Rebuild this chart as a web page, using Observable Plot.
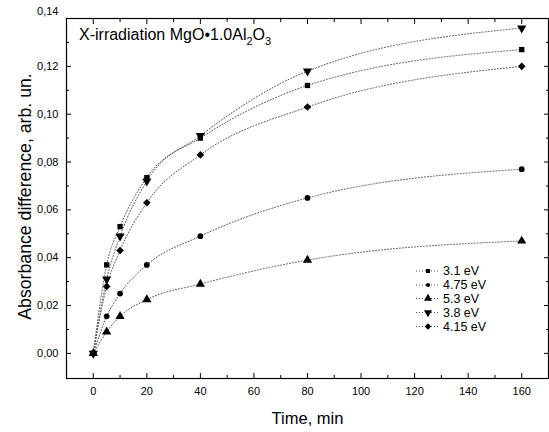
<!DOCTYPE html>
<html>
<head>
<meta charset="utf-8">
<script src="https://cdn.jsdelivr.net/npm/d3@7"></script>
<script src="https://cdn.jsdelivr.net/npm/@observablehq/plot@0.6"></script>
<style>
  html, body { margin: 0; padding: 0; background: #fff; }
  #chart { width: 549px; height: 432px; }
</style>
</head>
<body>
<div id="chart"></div>
<script>
// ---- data ----
const times = [0, 5, 10, 20, 40, 80, 160];
const seriesNames = ["3.1 eV", "4.75 eV", "5.3 eV", "3.8 eV", "4.15 eV"];
const s3_1  = [0, 0.037, 0.053, 0.0735, 0.090, 0.112, 0.127];
const s4_75 = [0, 0.0155, 0.025, 0.037, 0.049, 0.065, 0.077];
const s5_3  = [0, 0.009, 0.0155, 0.0225, 0.029, 0.039, 0.047];
const s3_8  = [0, 0.031, 0.049, 0.072, 0.091, 0.118, 0.136];
const s4_15 = [0, 0.028, 0.043, 0.063, 0.083, 0.103, 0.120];
const xMajorTicks = [0, 20, 40, 60, 80, 100, 120, 140, 160];
const xMinorTicks = [10, 30, 50, 70, 90, 110, 130, 150];
const yMajorTicks = [0, 0.02, 0.04, 0.06, 0.08, 0.10, 0.12, 0.14];
const yMinorTicks = [0.01, 0.03, 0.05, 0.07, 0.09, 0.11, 0.13];

const seriesValues = [s3_1, s4_75, s5_3, s3_8, s4_15];
const symbols = {"3.1 eV": "square", "4.75 eV": "circle", "5.3 eV": "triangle", "3.8 eV": "triangle", "4.15 eV": "diamond2"};
const rotations = {"3.1 eV": 0, "4.75 eV": 0, "5.3 eV": 0, "3.8 eV": 180, "4.15 eV": 0};
const radii = {"3.1 eV": 2.3, "4.75 eV": 2.1, "5.3 eV": 3.0, "3.8 eV": 3.0, "4.15 eV": 3.0};

const data = [];
seriesNames.forEach((name, i) => {
  times.forEach((t, j) => data.push({series: name, t, v: seriesValues[i][j]}));
});

const font = "'Liberation Sans', Arial, sans-serif";
const comma = d => d3.format(".2f")(d).replace(".", ",");
const yLabelTicksLow = yMajorTicks.slice(0, -1);
const yLabelTickTop = yMajorTicks.slice(-1);

const chart = Plot.plot({
  width: 549,
  height: 432,
  marginLeft: 66,
  marginRight: 1,
  marginTop: 18,
  marginBottom: 54,
  style: {fontFamily: font, fontSize: "11px", color: "#000", background: "#fff"},
  x: {domain: [-10, 170]},
  y: {domain: [-0.0105, 0.14]},
  symbol: {domain: seriesNames, range: seriesNames.map(s => symbols[s])},
  marks: [
    // fitted dotted curves
    Plot.line(data, {x: "t", y: "v", z: "series", curve: "monotone-x", stroke: "#555", strokeWidth: 1, strokeDasharray: "1,2"}),
    // tick labels
    Plot.axisX(xMajorTicks, {anchor: "bottom", tickSize: 0, tickPadding: 9, label: null, fontSize: 11}),
    Plot.axisY(yLabelTicksLow, {anchor: "left", tickSize: 0, tickPadding: 8, label: null, tickFormat: comma, fontSize: 11}),
    Plot.axisY(yLabelTickTop, {anchor: "left", tickSize: 0, tickPadding: 8, label: null, tickFormat: comma, fontSize: 11, dy: -7}),
    // inward ticks on all sides
    Plot.axisX(xMajorTicks, {anchor: "bottom", tickSize: -5, tickFormat: () => "", label: null}),
    Plot.axisX(xMinorTicks, {anchor: "bottom", tickSize: -3, tickFormat: () => "", label: null}),
    Plot.axisX(xMajorTicks, {anchor: "top", tickSize: -5, tickFormat: () => "", label: null}),
    Plot.axisX(xMinorTicks, {anchor: "top", tickSize: -3, tickFormat: () => "", label: null}),
    Plot.axisY(yMajorTicks, {anchor: "left", tickSize: -5, tickFormat: () => "", label: null}),
    Plot.axisY(yMinorTicks, {anchor: "left", tickSize: -3, tickFormat: () => "", label: null}),
    Plot.axisY(yMajorTicks, {anchor: "right", tickSize: -5, tickFormat: () => "", label: null}),
    Plot.axisY(yMinorTicks, {anchor: "right", tickSize: -3, tickFormat: () => "", label: null}),
    Plot.frame({stroke: "#000", strokeWidth: 1.2}),
    // points
    Plot.dot(data, {x: "t", y: "v", symbol: "series", fill: "#000", stroke: "none",
      r: d => radii[d.series], rotate: d => rotations[d.series]}),
    // axis titles
    Plot.text(["Time, min"], {frameAnchor: "bottom", dy: 40, fontSize: 16.5, lineAnchor: "middle", textAnchor: "middle"}),
    Plot.text(["Absorbance difference, arb. un."], {frameAnchor: "left", dx: -41, dy: -2, rotate: -90, fontSize: 17.7, lineAnchor: "middle", textAnchor: "middle"})
  ]
});

const svg = d3.select(chart);

// title with subscripts
const title = svg.append("text")
  .attr("x", 79).attr("y", 39.5).attr("text-anchor", "start")
  .attr("font-family", font).attr("font-size", 16).attr("fill", "#000");
title.append("tspan").text("X-irradiation MgO•1.0Al");
title.append("tspan").attr("font-size", 11).attr("dy", 5).text("2");
title.append("tspan").attr("dy", -5).text("O");
title.append("tspan").attr("font-size", 11).attr("dy", 5).text("3");

// legend
const legend = svg.append("g").attr("font-family", font).attr("font-size", 12.5).attr("text-anchor", "start");
const rowY = [271, 285, 298.5, 312.5, 326.5];
seriesNames.forEach((name, i) => {
  const y = rowY[i];
  legend.append("line").attr("x1", 416).attr("x2", 439).attr("y1", y).attr("y2", y)
    .attr("stroke", "#555").attr("stroke-dasharray", "1,2");
  const sym = {square: d3.symbolSquare, circle: d3.symbolCircle, triangle: d3.symbolTriangle, diamond2: d3.symbolDiamond2}[symbols[name]];
  const r = radii[name];
  legend.append("path")
    .attr("d", d3.symbol(sym, Math.PI * r * r)())
    .attr("transform", `translate(428,${y}) rotate(${rotations[name]})`)
    .attr("fill", "#000");
  legend.append("text").attr("x", 443).attr("y", y).attr("dy", "0.35em").attr("fill", "#000").text(name);
});

document.getElementById("chart").appendChild(chart);
</script>
</body>
</html>
